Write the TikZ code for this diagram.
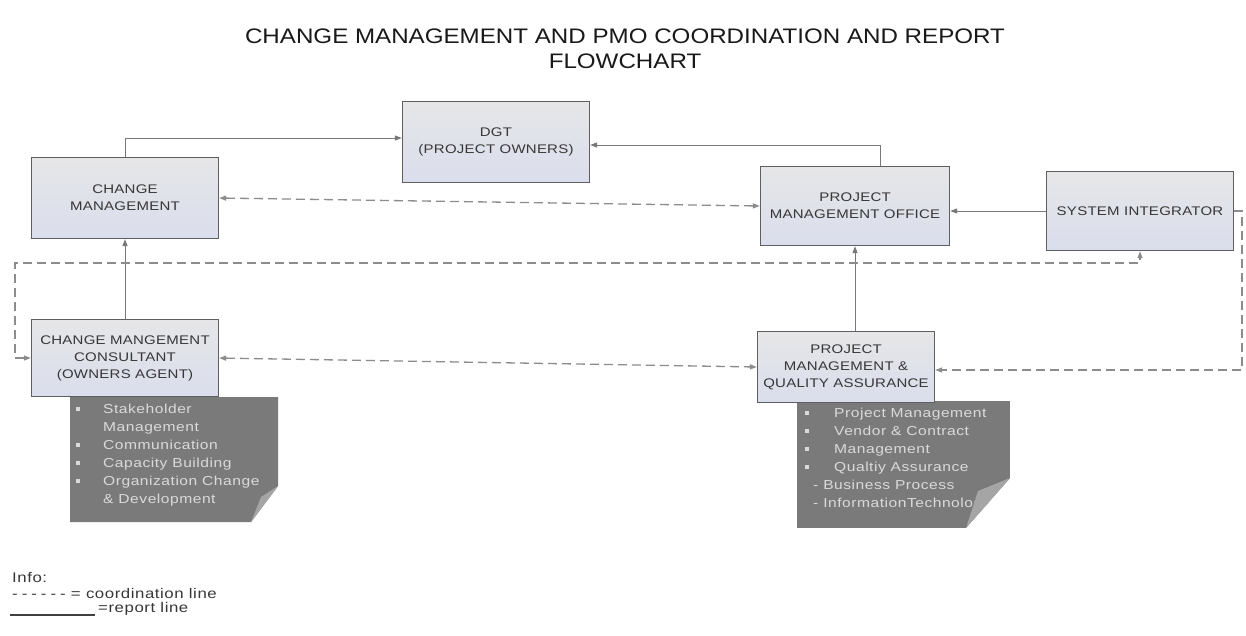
\documentclass[tikz,border=0pt]{standalone}
\usepackage{fontspec}
\setmainfont{Liberation Sans}
\newfontfamily\titlefont[FakeStretch=1.15]{Liberation Sans}
\newfontfamily\boxfont[FakeStretch=1.2,LetterSpace=2]{Liberation Sans}
\newfontfamily\notefont[FakeStretch=1.2,LetterSpace=4]{Liberation Sans}
\usetikzlibrary{arrows.meta,calc}
\definecolor{boxtop}{RGB}{230,230,232}
\definecolor{boxbot}{RGB}{218,222,236}
\definecolor{boxline}{RGB}{95,95,95}
\definecolor{linegray}{RGB}{120,120,120}
\definecolor{dashgray}{RGB}{140,140,140}
\definecolor{notefill}{RGB}{122,122,122}
\definecolor{notefold}{RGB}{165,165,165}
\definecolor{notetext}{RGB}{218,218,218}
\definecolor{txt}{RGB}{55,55,55}
\newcommand\sqbullet{\raisebox{2.5pt}{\rule{4pt}{4pt}}}
\newcommand\dashseq{-\kern4pt-\kern4pt-\kern4pt-\kern4pt-\kern4pt-}
\begin{document}
\begin{tikzpicture}[x=1pt,y=-1pt,
  >={Triangle[length=7pt,width=5pt]},
  box/.style={draw=boxline, line width=1.3pt, top color=boxtop, bottom color=boxbot,
    align=center, text=txt, inner sep=2pt,
    font=\boxfont\fontsize{12.5}{17}\selectfont},
  report/.style={draw=linegray, line width=1pt, ->},
  coord/.style={draw=dashgray, line width=1.3pt, dash pattern=on 9pt off 5pt},
  notetxt/.style={text=notetext, align=left, inner sep=0pt,
    font=\notefont\fontsize{13}{18}\selectfont},
  legend/.style={text=txt, inner sep=0pt, font=\notefont\fontsize{14}{16}\selectfont}]
\fill[white] (0,0) rectangle (1246,635);
\useasboundingbox (0,0) rectangle (1246,635);

% title
\node[font=\titlefont\fontsize{21}{25}\selectfont, align=center, text=black!90] (title) at (625,49)
  {CHANGE MANAGEMENT AND PMO COORDINATION AND REPORT\\FLOWCHART};

% notes
\fill[notefill] (70,397) -- (278,397) -- (278,486) -- (251,522) -- (70,522) -- cycle;
\node[notetxt, anchor=north west] (note1) at (76,404)
  {\makebox[27pt][l]{\sqbullet}Stakeholder\\
   \makebox[27pt]{}Management\\
   \makebox[27pt][l]{\sqbullet}Communication\\
   \makebox[27pt][l]{\sqbullet}Capacity Building\\
   \makebox[27pt][l]{\sqbullet}Organization Change\\
   \makebox[27pt]{}\& Development};
\fill[notefold] (278,486) -- (251,522) -- (261,497) -- cycle;

\begin{scope}
\clip (797,401) -- (1010,401) -- (1010,478) -- (966,528) -- (797,528) -- cycle;
\fill[notefill] (797,401) rectangle (1010,528);
\node[notetxt, anchor=north west] (note2) at (805,408)
  {\makebox[29pt][l]{\sqbullet}Project Management\\
   \makebox[29pt][l]{\sqbullet}Vendor \& Contract\\
   \makebox[29pt][l]{\sqbullet}Management\\
   \makebox[29pt][l]{\sqbullet}Qualtiy Assurance\\
   \makebox[8pt]{}- Business Process\\
   \makebox[8pt]{}- InformationTechnology};
\end{scope}
\fill[notefold] (1010,478) -- (966,528) -- (978,491) -- cycle;

% boxes
\node[box, minimum width=187, minimum height=81] (dgt) at (496,142) {DGT\\(PROJECT OWNERS)};
\node[box, minimum width=187, minimum height=81] (cm) at (125,198) {CHANGE\\MANAGEMENT};
\node[box, minimum width=189, minimum height=79] (pmo) at (855,206) {PROJECT\\MANAGEMENT OFFICE};
\node[box, minimum width=187, minimum height=79] (si) at (1140,211) {SYSTEM INTEGRATOR};
\node[box, minimum width=187, minimum height=77] (cmc) at (125,358) {CHANGE MANGEMENT\\CONSULTANT\\(OWNERS AGENT)};
\node[box, minimum width=177, minimum height=71] (pmqa) at (846,367) {PROJECT\\MANAGEMENT \&\\QUALITY ASSURANCE};

% report lines
\draw[report] (cm.north) |- ($(dgt.west)+(0,-4)$);
\draw[report] ($(pmo.north)+(25,0)$) |- ($(dgt.east)+(0,3)$);
\draw[report] (si.west) -- (si.west -| pmo.east);
\draw[report] (cmc.north) -- (cm.south);
\draw[report] (pmqa.north -| pmo.south) -- (pmo.south);

% coordination lines
\coordinate (r1) at (1242,211);
\coordinate (r2) at (1242,370);
\coordinate (l1) at (15,263);
\draw[coord,<->] (cm.east) -- (pmo.west);
\draw[coord,<->] (cmc.east) -- (pmqa.west);
\draw[coord,->] (si.east) -- (r1) -- (r2) -- (r2 -| pmqa.east);
\draw[coord,<->] (cmc.west) -| (l1) -| (si.south);

% legend
\node[legend, anchor=base west] (info) at (12,582) {Info:};
\node[legend, anchor=base west] (leg1) at (12,598) {\dashseq{} = coordination line};
\draw[black!75, line width=1.4pt] (10,615) -- (95,615);
\node[legend, anchor=base west] (leg2) at (98,612) {=report line};
\end{tikzpicture}
\end{document}
